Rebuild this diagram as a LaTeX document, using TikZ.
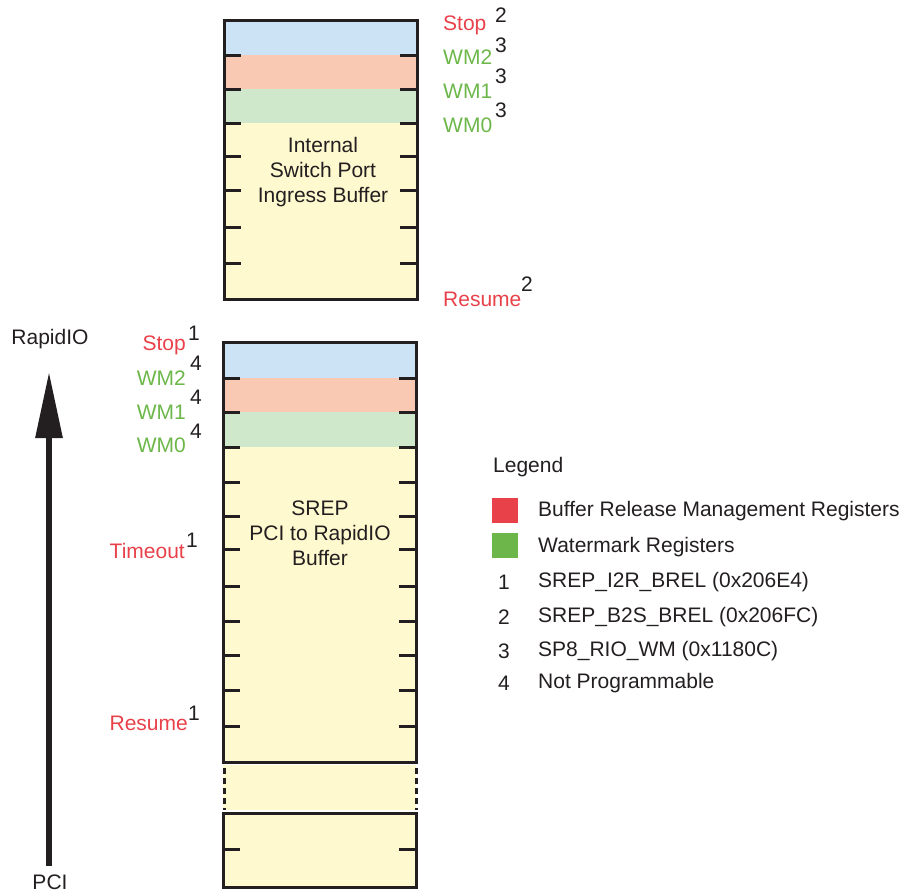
\documentclass[tikz,border=0pt]{standalone}
\usepackage{fontspec}
\setmainfont{Liberation Sans}
\usetikzlibrary{arrows.meta}
\definecolor{bandblue}{HTML}{CCE2F5}
\definecolor{bandsalmon}{HTML}{F9C9B4}
\definecolor{bandgreen}{HTML}{CFE8CC}
\definecolor{bufyellow}{HTML}{FEF9CE}
\definecolor{regred}{HTML}{E8414A}
\definecolor{reggreen}{HTML}{6DB74A}
\definecolor{edge}{HTML}{231F20}
\tikzset{
  txt/.style={inner sep=0pt, font=\fontsize{21}{25}\selectfont, text=edge},
  redlbl/.style={txt, text=regred},
  greenlbl/.style={txt, text=reggreen},
  suplbl/.style={txt},
  boxedge/.style={draw=edge, line width=3pt},
  tick/.style={draw=edge, line width=3pt},
  elided/.style={draw=edge, line width=3pt, dash pattern=on 6pt off 4pt},
  swatch/.style={minimum width=26pt, minimum height=25pt, inner sep=0pt},
}
\begin{document}
\begin{tikzpicture}[x=1pt, y=-1pt]
\useasboundingbox (0,0) rectangle (909,894);

% ---- upper buffer: internal switch port ingress buffer ----
\fill[bufyellow] (224,20) rectangle (417,299);
\fill[bandblue] (224,20) rectangle (417,55);
\fill[bandsalmon] (224,55) rectangle (417,89);
\fill[bandgreen] (224,89) rectangle (417,123);
\foreach \y in {55,89,123,156,190,227,263} {
  \draw[tick] (224,\y) -- (241,\y);
  \draw[tick] (400,\y) -- (417,\y);
}
\draw[boxedge] (224,20) rectangle (417,299);
\node[txt, align=center] (isp) at (323,172)
  {Internal\\Switch Port\\Ingress Buffer};

\node[redlbl, anchor=west] (stopA) at (443,25) {Stop};
\node[suplbl] (stopAn) at (501,15) {2};
\node[greenlbl, anchor=west] (wm2A) at (443,57) {WM2};
\node[suplbl] (wm2An) at (501,45) {3};
\node[greenlbl, anchor=west] (wm1A) at (443,91) {WM1};
\node[suplbl] (wm1An) at (501,76) {3};
\node[greenlbl, anchor=west] (wm0A) at (443,125) {WM0};
\node[suplbl] (wm0An) at (501,110) {3};
\node[redlbl, anchor=west] (resA) at (443,299) {Resume};
\node[suplbl] (resAn) at (527,284) {2};

% ---- lower buffer: SREP PCI to RapidIO buffer ----
\fill[bufyellow] (223,342) rectangle (416,762);
\fill[bandblue] (223,342) rectangle (416,378);
\fill[bandsalmon] (223,378) rectangle (416,412);
\fill[bandgreen] (223,412) rectangle (416,447);
\foreach \y in {378,412,447,482,516,549,586,621,655,690,726} {
  \draw[tick] (223,\y) -- (240,\y);
  \draw[tick] (399,\y) -- (416,\y);
}
\draw[boxedge] (223,342) rectangle (416,762);
\node[txt, align=center] (srep) at (320,533)
  {SREP\\PCI to RapidIO\\Buffer};

% elided middle section
\fill[bufyellow] (223,765) rectangle (416,810);
\draw[elided] (224,768) -- (224,810);
\draw[elided] (416,768) -- (416,810);

% last segment
\fill[bufyellow] (223,813) rectangle (416,887);
\draw[tick] (223,849) -- (240,849);
\draw[tick] (399,849) -- (416,849);
\draw[boxedge] (223,813) rectangle (416,887);

\node[redlbl, anchor=east] (stopB) at (186,345) {Stop};
\node[suplbl] (stopBn) at (194,333) {1};
\node[greenlbl, anchor=east] (wm2B) at (186,378) {WM2};
\node[suplbl] (wm2Bn) at (196,363) {4};
\node[greenlbl, anchor=east] (wm1B) at (186,412) {WM1};
\node[suplbl] (wm1Bn) at (196,397) {4};
\node[greenlbl, anchor=east] (wm0B) at (186,445) {WM0};
\node[suplbl] (wm0Bn) at (196,431) {4};
\node[redlbl, anchor=east] (toB) at (185,551) {Timeout};
\node[suplbl] (toBn) at (192,540) {1};
\node[redlbl, anchor=east] (resB) at (188,723) {Resume};
\node[suplbl] (resBn) at (194,713) {1};

% ---- direction arrow ----
\node[txt] (rio) at (50,339) {RapidIO};
\node[txt] (pci) at (50,882) {PCI};
\coordinate (arrowtail) at (49,866);
\coordinate (arrowtip) at (49,372);
\draw[edge, line width=6pt, -{Triangle[length=66pt, width=26pt]}] (arrowtail) -- (arrowtip);

% ---- legend ----
\node[txt, anchor=west] (leg) at (493,467) {Legend};
\node[swatch, fill=regred] (swr) at (505,510) {};
\node[swatch, fill=reggreen] (swg) at (505,545) {};
\node[txt, anchor=west] (l1) at (538,511) {Buffer Release Management Registers};
\node[txt, anchor=west] (l2) at (538,547) {Watermark Registers};
\node[txt] (n1) at (504,582) {1};
\node[txt, anchor=west] (l3) at (538,582) {SREP\_I2R\_BREL (0x206E4)};
\node[txt] (n2) at (504,617) {2};
\node[txt, anchor=west] (l4) at (538,617) {SREP\_B2S\_BREL (0x206FC)};
\node[txt] (n3) at (504,651) {3};
\node[txt, anchor=west] (l5) at (538,651) {SP8\_RIO\_WM (0x1180C)};
\node[txt] (n4) at (504,683) {4};
\node[txt, anchor=west] (l6) at (538,683) {Not Programmable};
\end{tikzpicture}
\end{document}
